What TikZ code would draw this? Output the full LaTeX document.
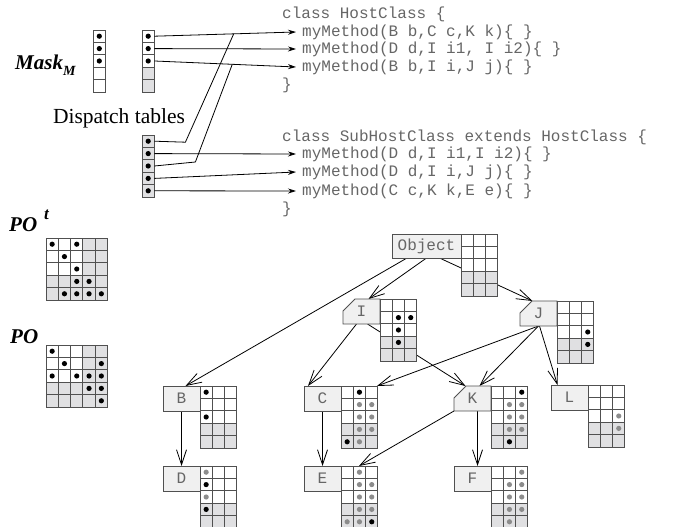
\documentclass[tikz,border=0pt]{standalone}
\usepackage{fontspec}
\setmainfont{Liberation Serif}
\setmonofont{Liberation Mono}
\usepackage{tikz}
\usetikzlibrary{arrows.meta,positioning,calc,backgrounds}

\definecolor{slotgray}{HTML}{E0E0E2}
\definecolor{boxgray}{HTML}{F0F0F0}
\definecolor{gridline}{HTML}{505050}
\definecolor{dotgray}{HTML}{8C8C8C}
\definecolor{codegray}{HTML}{666666}

\tikzset{
    code/.style={font=\ttfamily\fontsize{16}{16}\selectfont, text=codegray, inner ysep=2pt, inner xsep=0pt, anchor=west},
    method/.style={code, inner xsep=6pt},
    heading/.style={font=\fontsize{21}{21}\selectfont\bfseries\itshape, inner sep=0pt, anchor=west},
    caption/.style={font=\fontsize{21.5}{21.5}\selectfont, inner sep=0pt},
    classbox/.style={draw=gridline, fill=boxgray, line width=0.9pt, minimum width=37pt, minimum height=25pt,
        inner sep=0pt, outer sep=0pt, font=\ttfamily\fontsize{16}{16}\selectfont, text=codegray},
    ifacebox/.style={classbox, draw=none, fill=none},
    slot/.style={draw=gridline, line width=0.9pt, minimum width=12.4pt, minimum height=12.4pt, inner sep=0pt, outer sep=0pt},
    inherit/.style={-{Straight Barb[length=15pt,width=10pt]}, line width=0.8pt},
    dispatch/.style={-{Stealth[length=8pt,width=5pt]}, line width=0.8pt}
}

% grid of slots: origin, columns, last plain row/column
\newcommand{\slotgrid}[3]{%
  \foreach \r in {1,...,5}
    \foreach \c in {1,...,#2} {
      \ifnum\r>#3\relax\def\cellfill{slotgray}\else
        \ifnum\c>#3\relax\def\cellfill{slotgray}\else\def\cellfill{white}\fi\fi
      \filldraw[fill=\cellfill, draw=gridline, line width=0.9pt]
        ($(#1)+(\c*12.3-12.3,\r*12.4-12.4)$) rectangle ++(12.3,12.4);
    }
}
\newcommand{\slotdots}[2]{%
  \foreach \c/\r/\dc in {#2}
    \fill[\dc] ($(#1)+(\c*12.3-6.15,\r*12.4-6.2)$) circle (2.6pt);
}
% outline of an interface box, corner cut off
\newcommand{\chamferbox}[1]{%
  \filldraw[fill=boxgray, draw=gridline, line width=0.9pt]
    ([xshift=12pt]#1.north west) -- (#1.north east) -- (#1.south east)
    -- (#1.south west) -- ([yshift=-12pt]#1.north west) -- cycle;
}

\begin{document}
\begin{tikzpicture}[x=1pt, y=-1pt, node distance=55pt]
\useasboundingbox (0,0) rectangle (673,527);

% left side labels and matrices
\node[heading] (mask) at (15,65) {Mask\raisebox{-0.6ex}{\fontsize{14}{14}\selectfont M}};
\node[caption] (tables) at (119,118) {Dispatch tables};
\node[heading] (pot) at (9,221) {PO\hspace{7pt}\raisebox{1.3ex}{\fontsize{17}{17}\selectfont t}};
\node[heading] (po) at (10,337) {PO};

\coordinate (potm) at (46,238);
\coordinate (pom) at (46,345);
\slotgrid{potm}{5}{3}
\slotdots{potm}{1/1/black,3/1/black,2/2/black,3/3/black,3/4/black,4/4/black,2/5/black,3/5/black,4/5/black,5/5/black}
\slotgrid{pom}{5}{3}
\slotdots{pom}{1/1/black,2/2/black,5/2/black,1/3/black,3/3/black,4/3/black,5/3/black,4/4/black,5/4/black,5/5/black}

% dispatch tables
\foreach \i in {1,...,5} {
  \ifnum\i>3\relax\def\hostfill{slotgray}\else\def\hostfill{white}\fi
  \node[slot, fill=white] (mask\i) at (99.3,23.8+12.4*\i) {};
  \node[slot, fill=\hostfill] (host\i) at (148.2,23.8+12.4*\i) {};
  \node[slot, fill=slotgray] (sub\i) at (148.2,128.8+12.4*\i) {};
}
\foreach \i in {1,2,3} {
  \fill (mask\i) circle (2.6pt);
  \fill (host\i) circle (2.6pt);
}
\foreach \i in {1,...,5}
  \fill (sub\i) circle (2.6pt);

% the two classes
\node[code] (hclass) at (282,14) {class HostClass \{};
\node[method] (hm1) at (296,32) {myMethod(B b,C c,K k)\{ \}};
\node[method] (hm2) at (296,49) {myMethod(D d,I i1, I i2)\{ \}};
\node[method] (hm3) at (296,67) {myMethod(B b,I i,J j)\{ \}};
\node[code] (hend) at (282,85) {\}};
\node[code] (sclass) at (282,137) {class SubHostClass extends HostClass \{};
\node[method] (sm1) at (296,154) {myMethod(D d,I i1,I i2)\{ \}};
\node[method] (sm2) at (296,172) {myMethod(D d,I i,J j)\{ \}};
\node[method] (sm3) at (296,191) {myMethod(C c,K k,E e)\{ \}};
\node[code] (send) at (282,209) {\}};

\draw[dispatch] (host1.east) -- (hm1.west);
\draw[dispatch] (host2.east) -- (hm2.west);
\draw[dispatch] (host3.east) -- (hm3.west);
\coordinate (join1) at ($(host1.east)!0.56!(hm1.west)$);
\coordinate (join3) at ($(host3.east)!0.55!(hm3.west)$);
\draw[line width=0.8pt] (sub1.east) -- ++(31,1) -- (join1);
\draw[dispatch] (sub2.east) -- (sm1.west);
\draw[line width=0.8pt] (sub3.east) -- ++(41,-4) -- (join3);
\draw[dispatch] (sub4.east) -- (sm2.west);
\draw[dispatch] (sub5.east) -- (sm3.west);

% type hierarchy
\node[classbox, minimum width=69pt, minimum height=24pt, anchor=north west] (Object) at (392,234) {Object};
\node[ifacebox, anchor=north west] (I) at (343,299) {I};
\node[ifacebox, anchor=north west] (J) at (520,301) {J};
\node[classbox, anchor=north west] (B) at (163,386) {B};
\node[classbox, anchor=north west] (C) at (304,386) {C};
\node[ifacebox, anchor=north west] (K) at (454,386) {K};
\node[classbox, anchor=north west] (L) at (551,385) {L};
\node[classbox, below=of B] (D) {D};
\node[classbox, below=of C] (E) {E};
\node[classbox, below=of K] (F) {F};

\slotgrid{Object.north east}{3}{3}
\slotgrid{I.north east}{3}{3}
\slotdots{I.north east}{2/2/black,3/2/black,2/3/black,2/4/black}
\slotgrid{J.north east}{3}{3}
\slotdots{J.north east}{3/3/black,3/4/black}
\slotgrid{B.north east}{3}{3}
\slotdots{B.north east}{1/1/black,1/3/black}
\slotgrid{C.north east}{3}{3}
\slotdots{C.north east}{2/1/black,2/2/dotgray,3/2/dotgray,2/3/dotgray,3/3/dotgray,2/4/dotgray,3/4/dotgray,1/5/black,2/5/dotgray}
\slotgrid{K.north east}{3}{3}
\slotdots{K.north east}{3/1/black,2/2/dotgray,3/2/dotgray,2/3/dotgray,3/3/dotgray,2/4/dotgray,3/4/dotgray,2/5/black}
\slotgrid{L.north east}{3}{3}
\slotdots{L.north east}{3/3/dotgray,3/4/dotgray}
\slotgrid{D.north east}{3}{3}
\slotdots{D.north east}{1/1/dotgray,1/2/black,1/3/dotgray,1/4/black}
\slotgrid{E.north east}{3}{3}
\slotdots{E.north east}{2/1/dotgray,2/2/dotgray,3/2/dotgray,2/3/dotgray,3/3/dotgray,2/4/dotgray,3/4/dotgray,1/5/dotgray,2/5/dotgray,3/5/black}
\slotgrid{F.north east}{3}{3}
\slotdots{F.north east}{3/1/dotgray,2/2/dotgray,3/2/dotgray,2/3/dotgray,3/3/dotgray,2/4/dotgray,3/4/dotgray,2/5/dotgray}

\begin{scope}[on background layer]
\draw[inherit] ([xshift=15pt]Object.south west) -- ([xshift=4pt]B.north);
\draw[inherit] (Object.south) -- ([xshift=7pt]I.north);
\draw[inherit] ([xshift=13pt]Object.south) -- ([xshift=-6pt]J.north);
\draw[inherit] ([xshift=-5pt]I.south) -- ([xshift=4pt]C.north west);
\draw[inherit] ([xshift=6pt]I.south) -- ([xshift=-7pt]K.north);
\draw[inherit] (J.south) -- ([xshift=36pt]C.north east);
\draw[inherit] (J.south) -- ([xshift=7pt]K.north);
\draw[inherit] ([xshift=1pt]J.south) -- ([xshift=-12pt]L.north);
\draw[inherit] (K.south west) -- ([xshift=18pt]E.north east);
\draw[inherit] (B) -- (D);
\draw[inherit] (C) -- (E);
\draw[inherit] ([xshift=5pt]K.south) -- ([xshift=5pt]F.north);
\chamferbox{I}
\chamferbox{J}
\chamferbox{K}
\end{scope}
\end{tikzpicture}
\end{document}
